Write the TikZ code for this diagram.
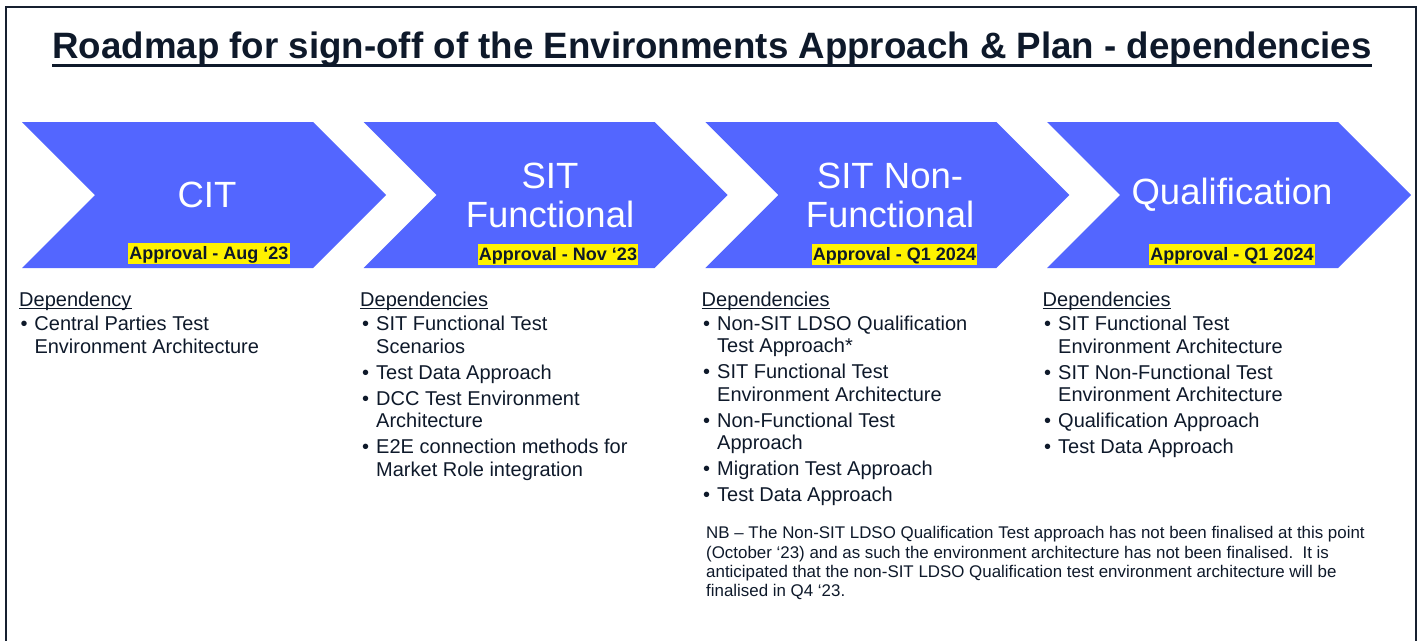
\documentclass[tikz,border=0pt]{standalone}
\usepackage{fontspec}
\setmainfont{Liberation Sans}
\usetikzlibrary{arrows,shapes}
\definecolor{chevblue}{RGB}{83,102,255}
\definecolor{inkblue}{RGB}{14,25,42}
\definecolor{framegrey}{RGB}{22,32,48}
\tikzstyle{frame}=[draw=framegrey,line width=2pt]
\tikzstyle{title}=[text=inkblue,font=\bfseries\fontsize{36.7}{40}\selectfont,inner sep=0pt,anchor=base]
\tikzstyle{titleline}=[draw=inkblue,line width=3pt]
\tikzstyle{chevron}=[fill=chevblue]
\tikzstyle{phase}=[text=white,font=\fontsize{36.5}{39}\selectfont,align=center,inner sep=0pt]
\tikzstyle{approval}=[fill=yellow,text=inkblue,font=\bfseries\fontsize{18}{20}\selectfont,inner xsep=1pt,inner ysep=0pt,text height=16.5pt,text depth=4.5pt]
\tikzstyle{dephead}=[text=inkblue,font=\fontsize{20}{22.5}\selectfont,inner sep=0pt,anchor=base west]
\tikzstyle{headline}=[draw=inkblue,line width=1.3pt]
% multi-line nodes sit on the baseline of their last line
\tikzstyle{deplist}=[text=inkblue,font=\fontsize{20}{22.5}\selectfont,align=left,inner sep=0pt,anchor=base west]
\tikzstyle{note}=[text=inkblue,font=\fontsize{16.9}{19.3}\selectfont,align=left,inner sep=0pt,anchor=base west]
\newcommand\bul{\makebox[14pt][l]{\textbullet}}
\newcommand\hang{\hspace*{14pt}}

\begin{document}
\begin{tikzpicture}[x=1pt,y=-1pt]
    % Slide size and border
    \clip (0,0) rectangle (1421,640);
    \draw[frame] (6,7) rectangle (1415.5,700);

    % Title with its underline
    \node[title] (head) at (712,58) {Roadmap for sign-off of the Environments Approach \& Plan - dependencies};
    \draw[titleline] ([yshift=-7pt]head.base west) -- ([yshift=-7pt]head.base east);

    % First we draw the chevrons
    \foreach \x in {22,363.7,705.3,1047}
        \fill[chevron] (\x,122) -- ++(291,0) -- ++(73,73) -- ++(-73,73) -- ++(-291,0) -- ++(73,-73) -- cycle;

    % Phase names and approval dates
    \foreach \pos/\name/\txt in {{(207,195)/cit/CIT}, {(550,195)/sitf/{SIT\\Functional}}, {(890,195)/sitnf/{SIT Non-\\Functional}}, {(1232,195)/qual/Qualification}}
        \node[phase] (\name) at \pos {\txt};
    \foreach \pos/\name/\txt in {{(209,253.5)/citok/Approval - Aug ‘23}, {(558,254.5)/sitfok/Approval - Nov ‘23}, {(894.5,254.5)/sitnfok/Approval - Q1 2024}, {(1232,254.5)/qualok/Approval - Q1 2024}}
        \node[approval] (\name) at \pos {\txt};

    % Dependency headings
    \foreach \x/\name/\txt in {19/depa/Dependency, 360/depb/Dependencies, 701.5/depc/Dependencies, 1042.5/depd/Dependencies}
        \node[dephead] (\name) at (\x,306.5) {\txt};
    \foreach \name in {depa,depb,depc,depd}
        \draw[headline] ([yshift=-1.8pt]\name.base west) -- ([yshift=-1.8pt]\name.base east);

    % Dependency lists
    \node[deplist] (lista) at (20.3,353.2) {\bul Central Parties Test\\\hang Environment Architecture};
    \node[deplist] (listb) at (362,476.2) {\bul SIT Functional Test\\\hang Scenarios\\[3.5pt]\bul Test Data Approach\\[3.5pt]\bul DCC Test Environment\\\hang Architecture\\[3.5pt]\bul E2E connection methods for\\\hang Market Role integration};
    \node[deplist] (listc) at (703,501.7) {\bul Non-SIT LDSO Qualification\\\hang Test Approach*\\[3.5pt]\bul SIT Functional Test\\\hang Environment Architecture\\[3.5pt]\bul Non-Functional Test\\\hang Approach\\[3.5pt]\bul Migration Test Approach\\[3.5pt]\bul Test Data Approach};
    \node[deplist] (listd) at (1044,453.7) {\bul SIT Functional Test\\\hang Environment Architecture\\[3.5pt]\bul SIT Non-Functional Test\\\hang Environment Architecture\\[3.5pt]\bul Qualification Approach\\[3.5pt]\bul Test Data Approach};

    % Note under the third column
    \node[note] (nb) at (706,596.7) {NB – The Non-SIT LDSO Qualification Test approach has not been finalised at this point\\(October ‘23) and as such the environment architecture has not been finalised.\ \ It is\\anticipated that the non-SIT LDSO Qualification test environment architecture will be\\finalised in Q4 ‘23.};
\end{tikzpicture}
\end{document}
